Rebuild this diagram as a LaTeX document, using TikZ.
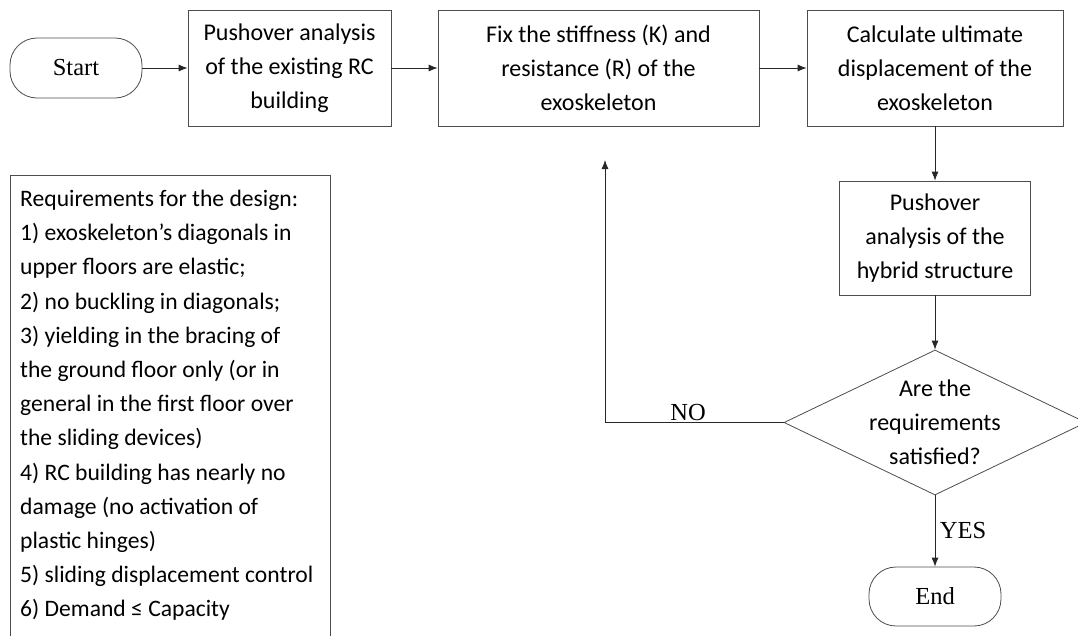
\documentclass[tikz,border=0pt]{standalone}
\usepackage{fontspec}
\setmainfont{Liberation Serif}
\newfontfamily\calfont{Carlito}
\usetikzlibrary{shapes.geometric,arrows.meta}
\begin{document}
\begin{tikzpicture}[x=1pt,y=-1pt,
  proc/.style={draw=black!70, line width=0.8pt, rectangle, inner sep=0pt, align=center,
    font=\calfont\fontsize{24}{34}\selectfont},
  term/.style={draw=black!70, line width=0.8pt, rectangle, rounded corners=27pt, inner sep=0pt,
    minimum width=132pt, minimum height=60pt, font=\fontsize{24.5}{28}\selectfont},
  dec/.style={draw=black!70, line width=0.8pt, diamond, inner sep=0pt},
  arr/.style={draw=black!85, line width=0.8pt, -{Latex[length=9pt,width=7pt]}},
  lbl/.style={font=\fontsize{24.5}{28}\selectfont, inner sep=0pt},
  reqtext/.style={anchor=north west, inner sep=0pt, align=left,
    font=\calfont\fontsize{23.6}{34.2}\selectfont}
]
\useasboundingbox (0,0) rectangle (1078,635);

\node[term] (start) at (76,68) {Start};
\node[proc, minimum width=203pt, minimum height=116pt] (b1) at (289.5,68)
  {Pushover analysis\\of the existing RC\\building};
\node[proc, minimum width=321pt, minimum height=116pt] (b2) at (598.5,68)
  {Fix the stiffness (K) and\\resistance (R) of the\\exoskeleton};
\node[proc, minimum width=256pt, minimum height=116pt] (b3) at (935,68)
  {Calculate ultimate\\displacement of the\\exoskeleton};
\node[proc, minimum width=191pt, minimum height=114pt] (b4) at (935,238)
  {Pushover\\analysis of the\\hybrid structure};
\node[dec, minimum width=302pt, minimum height=145pt] (d) at (935,422.5) {};
\node[proc, draw=none] (dt) at (d.center) {Are the\\requirements\\satisfied?};
\node[term, minimum width=132pt, minimum height=59pt] (end) at (935,596.5) {End};

\coordinate (nop) at (605,160);

\draw[arr] (start) -- (b1);
\draw[arr] (b1) -- (b2);
\draw[arr] (b2) -- (b3);
\draw[arr] (b3) -- (b4);
\draw[arr] (b4) -- (d);
\draw[arr] (d) -- (end);
\draw[arr] (d.west) -| (nop);

\node[lbl] (no) at (688,412) {NO};
\node[lbl] (yes) at (963,530) {YES};

\draw[draw=black!70, line width=0.8pt] (10,636) -- (10,175) -- (330,175) -- (330,636);
\node[reqtext] (req) at (20,190) {Requirements for the design:\\
1) exoskeleton’s diagonals in\\
upper floors are elastic;\\
2) no buckling in diagonals;\\
3) yielding in the bracing of\\
the ground floor only (or in\\
general in the first floor over\\
the sliding devices)\\
4) RC building has nearly no\\
damage (no activation of\\
plastic hinges)\\
5) sliding displacement control\\
6) Demand ≤ Capacity};
\end{tikzpicture}
\end{document}
